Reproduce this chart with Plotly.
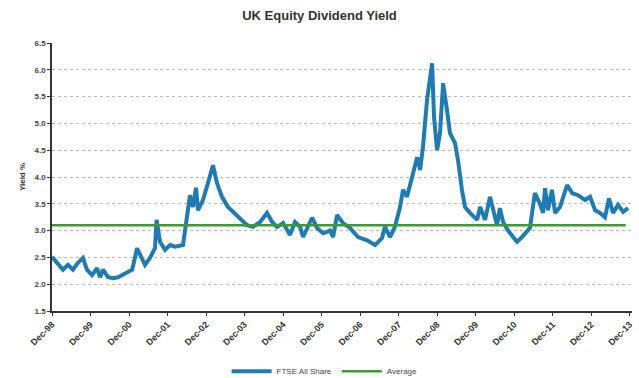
import plotly.graph_objects as go

dates = [
    "1998-12-01", "1999-01-17", "1999-03-15", "1999-05-01", "1999-06-17", "1999-08-04",
    "1999-09-21", "1999-10-28", "1999-12-16", "2000-02-01", "2000-03-01", "2000-03-29",
    "2000-05-16", "2000-07-02", "2000-08-19", "2000-10-24", "2000-12-31", "2001-02-15",
    "2001-04-02", "2001-05-01", "2001-06-17", "2001-08-04", "2001-08-19", "2001-09-21",
    "2001-11-07", "2001-12-25", "2002-02-10", "2002-04-27", "2002-05-26",
    "2002-07-02", "2002-07-30", "2002-08-28", "2002-09-16", "2002-11-02", "2002-12-20",
    "2003-02-05", "2003-03-15", "2003-05-01", "2003-06-27", "2003-08-14", "2003-10-19",
    "2003-12-25", "2004-02-20", "2004-04-27", "2004-07-02", "2004-08-19", "2004-10-05",
    "2004-12-01", "2005-02-05", "2005-03-24", "2005-05-11", "2005-06-09", "2005-09-02",
    "2005-10-19", "2005-12-16", "2006-02-20", "2006-03-20", "2006-04-27", "2006-06-23",
    "2006-08-28", "2006-11-12", "2007-02-05", "2007-04-22", "2007-06-27", "2007-07-25",
    "2007-09-12", "2007-10-28", "2007-12-16", "2008-01-13", "2008-02-20", "2008-04-08",
    "2008-05-26", "2008-06-23", "2008-07-20", "2008-08-28", "2008-09-26", "2008-10-15",
    "2008-11-02", "2008-12-01", "2008-12-29", "2009-01-27", "2009-03-05", "2009-04-02",
    "2009-05-20", "2009-06-17", "2009-07-25", "2009-08-23", "2009-10-09", "2009-12-16",
    "2010-01-13", "2010-03-01", "2010-04-17", "2010-05-16", "2010-06-23", "2010-07-20",
    "2010-08-19", "2010-10-05", "2010-11-11", "2010-12-29", "2011-02-15", "2011-05-01",
    "2011-06-17", "2011-08-04", "2011-09-02", "2011-09-21", "2011-10-19", "2011-11-26",
    "2011-12-25", "2012-02-10", "2012-04-17", "2012-06-04", "2012-07-30", "2012-10-05",
    "2012-11-21", "2013-01-08", "2013-02-24", "2013-04-12", "2013-05-20", "2013-06-27",
    "2013-08-14", "2013-10-01", "2013-11-17",
]

ftse_yield = [
    2.51, 2.40, 2.27, 2.36, 2.27, 2.40,
    2.49, 2.27, 2.17, 2.30, 2.13, 2.27,
    2.13, 2.11, 2.13, 2.20, 2.27, 2.67,
    2.45, 2.36, 2.49, 2.67, 3.20, 2.79,
    2.64, 2.73, 2.70, 2.73, 3.14,
    3.66, 3.44, 3.80, 3.38, 3.57, 3.89,
    4.22, 3.89, 3.63, 3.44, 3.35, 3.24,
    3.10, 3.07, 3.16, 3.33, 3.16, 3.07,
    3.14, 2.92, 3.16, 3.07, 2.88, 3.24,
    3.05, 2.95, 3.00, 2.88, 3.29, 3.14,
    3.05, 2.88, 2.82, 2.73, 2.86, 3.07,
    2.88, 3.07, 3.44, 3.76, 3.63, 4.00,
    4.37, 4.13, 4.56, 5.44, 5.87, 6.12,
    5.12, 4.50, 4.82, 5.75, 5.25, 4.82,
    4.63, 4.32, 3.76, 3.44, 3.33, 3.20,
    3.44, 3.20, 3.63, 3.38, 3.10, 3.42,
    3.16, 3.00, 2.92, 2.79, 2.88, 3.05,
    3.70, 3.50, 3.33, 3.79, 3.38, 3.76,
    3.33, 3.44, 3.85, 3.70, 3.66, 3.57,
    3.63, 3.38, 3.33, 3.25, 3.60, 3.33,
    3.48, 3.35, 3.42,
]

average_yield = 3.1
avg_dates = ["1998-12-01", "2013-10-25"]

tick_years = list(range(1998, 2014))
tick_vals = [f"{y}-12-01" for y in tick_years]
tick_text = [f"<b>Dec-{str(y)[-2:]}</b>" for y in tick_years]

y_ticks = [1.5, 2.0, 2.5, 3.0, 3.5, 4.0, 4.5, 5.0, 5.5, 6.0, 6.5]

fig = go.Figure()
fig.add_trace(go.Scatter(
    x=dates, y=ftse_yield, mode="lines", name="FTSE All Share",
    line=dict(color="#1f7bb4", width=4),
))
fig.add_trace(go.Scatter(
    x=avg_dates, y=[average_yield] * len(avg_dates), mode="lines", name="Average",
    line=dict(color="#3d9a2c", width=2.5),
))

font_family = "Arial, Liberation Sans, sans-serif"
fig.update_layout(
    width=639, height=378,
    margin=dict(l=52, r=7, t=43, b=67, autoexpand=False),
    paper_bgcolor="white", plot_bgcolor="white",
    title=dict(text="<b>UK Equity Dividend Yield</b>", x=0.5, xanchor="center",
               y=0.958, yanchor="middle",
               font=dict(family=font_family, size=13, color="#333333")),
    showlegend=True,
    legend=dict(orientation="h", x=0.47, xanchor="center", y=-0.225, yanchor="middle",
                font=dict(family=font_family, size=8, color="#444444"),
                itemwidth=40, traceorder="normal"),
    xaxis=dict(
        type="date", range=["1998-12-01", "2013-12-24"], automargin=False,
        tickmode="array", tickvals=tick_vals, ticktext=tick_text,
        tickangle=-45, tickfont=dict(family=font_family, size=9, color="#333333"),
        showgrid=False, showline=True, linecolor="#333333", linewidth=1.5,
        ticks="outside", ticklen=3, tickcolor="#333333", zeroline=False,
    ),
    yaxis=dict(
        range=[1.5, 6.5], tickmode="array", tickvals=y_ticks, automargin=False,
        ticktext=[f"<b>{v:.1f}</b>" for v in y_ticks],
        tickfont=dict(family=font_family, size=8, color="#444444"),
        title=dict(text="<b>Yield %</b>", font=dict(family=font_family, size=8, color="#333333"),
                   standoff=8),
        showgrid=True, gridcolor="#bbbbbb", griddash="3px,3px", gridwidth=1,
        showline=True, linecolor="#333333", linewidth=1.5,
        ticks="outside", ticklen=3, tickcolor="#333333", zeroline=False,
    ),
)

fig.write_html("out.html")
